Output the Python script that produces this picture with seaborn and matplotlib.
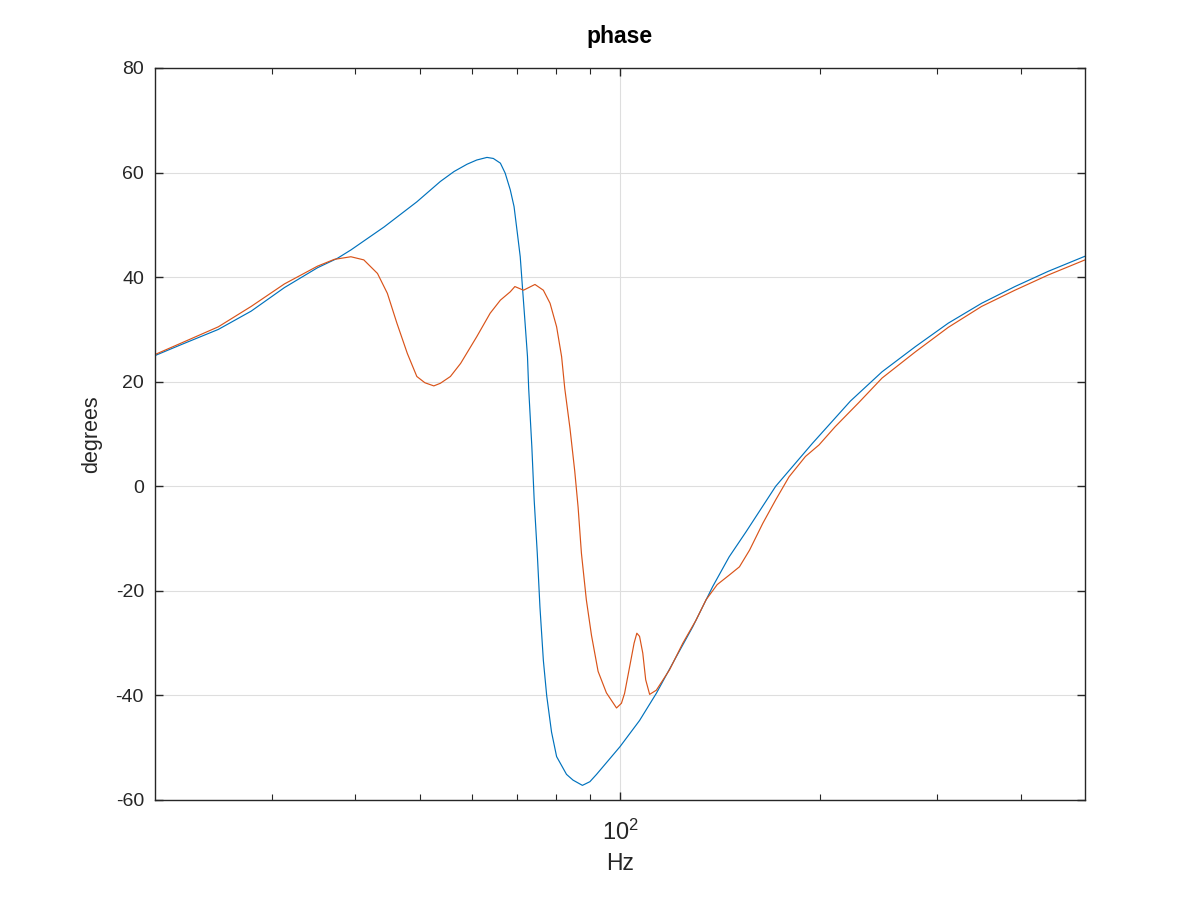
import numpy as np
import pandas as pd
import matplotlib
matplotlib.use("Agg")
import matplotlib.pyplot as plt
import matplotlib.ticker as mticker
import seaborn as sns

# Blue series (frequency Hz, phase degrees)
blue_hz = [20.0, 22.0, 24.9, 27.9, 31.3, 35.1, 37.6, 39.4, 44.2, 49.5, 53.7, 56.3,
           58.9, 60.9, 63.1, 64.5, 66.1, 67.2, 68.4, 69.3, 70.1, 70.8, 71.4, 72.0,
           72.6, 72.9, 73.7, 74.3, 75.1, 75.8, 76.7, 77.6, 78.9, 80.3, 83.1, 85.0,
           87.8, 90.1, 92.2, 100.0, 107.0, 113.4, 121.5, 128.6, 137.8, 145.9, 154.7,
           171.4, 194.6, 222.0, 247.7, 277.9, 311.5, 349.6, 392.3, 440.0, 500.0]
blue_deg = [25.0, 27.2, 30.0, 33.5, 38.0, 41.8, 43.6, 45.2, 49.6, 54.4, 58.3, 60.2,
            61.6, 62.4, 62.9, 62.7, 61.8, 59.9, 56.7, 53.5, 48.4, 43.9, 37.5, 31.2,
            24.8, 18.7, 7.6, -2.6, -12.8, -23.1, -33.3, -40.1, -47.0, -51.7, -55.1,
            -56.2, -57.2, -56.5, -55.1, -49.8, -44.8, -39.6, -32.6, -26.9, -19.2,
            -13.5, -8.7, 0.0, 8.2, 16.3, 21.9, 26.7, 31.2, 35.0, 38.2, 41.1, 44.0]

# Orange series
orange_hz = [20.0, 22.0, 24.9, 27.9, 31.3, 35.1, 37.2, 39.4, 41.2, 43.2, 44.7, 46.2,
             47.9, 49.5, 50.9, 52.5, 53.7, 55.6, 57.6, 60.9, 63.8, 66.1, 68.4, 69.5,
             71.6, 74.5, 76.7, 78.5, 80.3, 81.7, 82.6, 84.1, 85.5, 86.5, 87.5, 89.0,
             90.6, 92.7, 95.4, 98.8, 100.5, 101.6, 103.4, 105.0, 106.0, 107.0, 108.2,
             109.3, 110.8, 113.4, 118.7, 124.3, 130.1, 134.7, 140.0, 145.9, 151.2,
             156.6, 163.9, 171.4, 179.5, 190.0, 199.1, 210.6, 228.5, 247.7, 277.9,
             311.5, 349.6, 392.3, 440.0, 500.0]
orange_deg = [25.2, 27.5, 30.5, 34.4, 38.7, 42.1, 43.4, 43.9, 43.3, 40.7, 36.9, 31.2,
              25.4, 21.0, 19.8, 19.2, 19.7, 21.0, 23.5, 28.6, 33.1, 35.6, 37.2, 38.2,
              37.5, 38.6, 37.5, 35.0, 30.5, 24.8, 18.7, 11.1, 2.9, -4.0, -12.8, -21.7,
              -28.5, -35.4, -39.5, -42.4, -41.5, -39.6, -34.5, -30.0, -28.1, -28.7,
              -31.9, -37.0, -39.8, -39.0, -35.1, -30.0, -25.6, -21.7, -18.8, -17.0,
              -15.4, -12.2, -7.1, -2.6, 1.8, 5.7, 7.9, 11.4, 16.0, 20.7, 25.7, 30.4,
              34.4, 37.5, 40.4, 43.3]

BLUE = "#0072BD"
ORANGE = "#D95319"
TXT = "#262626"

sns.set_style("white")
plt.rcParams["font.family"] = ["Liberation Sans", "DejaVu Sans"]
plt.rcParams["axes.unicode_minus"] = False
plt.rcParams["mathtext.fontset"] = "custom"
plt.rcParams["mathtext.rm"] = "Liberation Sans"
plt.rcParams["mathtext.it"] = "Liberation Sans"

fig = plt.figure(figsize=(12, 9), dpi=100)
ax = fig.add_axes([155 / 1200, 1 - 800 / 900, (1085 - 155) / 1200, (800 - 68) / 900])

df_b = pd.DataFrame({"Hz": blue_hz, "deg": blue_deg})
df_o = pd.DataFrame({"Hz": orange_hz, "deg": orange_deg})
sns.lineplot(data=df_b, x="Hz", y="deg", ax=ax, color=BLUE, linewidth=0.85,
             estimator=None, sort=False)
sns.lineplot(data=df_o, x="Hz", y="deg", ax=ax, color=ORANGE, linewidth=0.85,
             estimator=None, sort=False)

ax.set_xscale("log")
ax.set_xlim(20, 500)
ax.set_ylim(-60, 80)
ax.set_yticks(np.arange(-60, 81, 20))
ax.xaxis.set_major_locator(mticker.FixedLocator([100]))
ax.xaxis.set_major_formatter(mticker.FixedFormatter([r"$10^2$"]))
ax.xaxis.set_minor_locator(mticker.FixedLocator([30, 40, 50, 60, 70, 80, 90, 200, 300, 400]))
ax.xaxis.set_minor_formatter(mticker.NullFormatter())

ax.grid(True, which="major", color="#dedede", linewidth=0.8)
ax.set_axisbelow(True)
for s in ax.spines.values():
    s.set_color(TXT)
    s.set_linewidth(1.0)
    s.set_visible(True)

ax.tick_params(axis="both", which="major", direction="in", length=6, width=1,
               colors=TXT, labelcolor=TXT, labelsize=14,
               top=True, right=True, bottom=True, left=True)
ax.tick_params(axis="x", which="minor", direction="in", length=4, width=0.8,
               colors=TXT, top=True, bottom=True)
ax.tick_params(axis="x", which="major", pad=14, labelsize=17)
ax.tick_params(axis="y", which="major", pad=8)

ax.set_xlabel("Hz", fontsize=16.5, color=TXT, labelpad=5)
ax.set_ylabel("degrees", fontsize=15.5, color=TXT, labelpad=10)
ax.set_title("phase", fontsize=16.5, fontweight="bold", color="black", pad=18)

fig.savefig("out.png", dpi=100, facecolor="white")
